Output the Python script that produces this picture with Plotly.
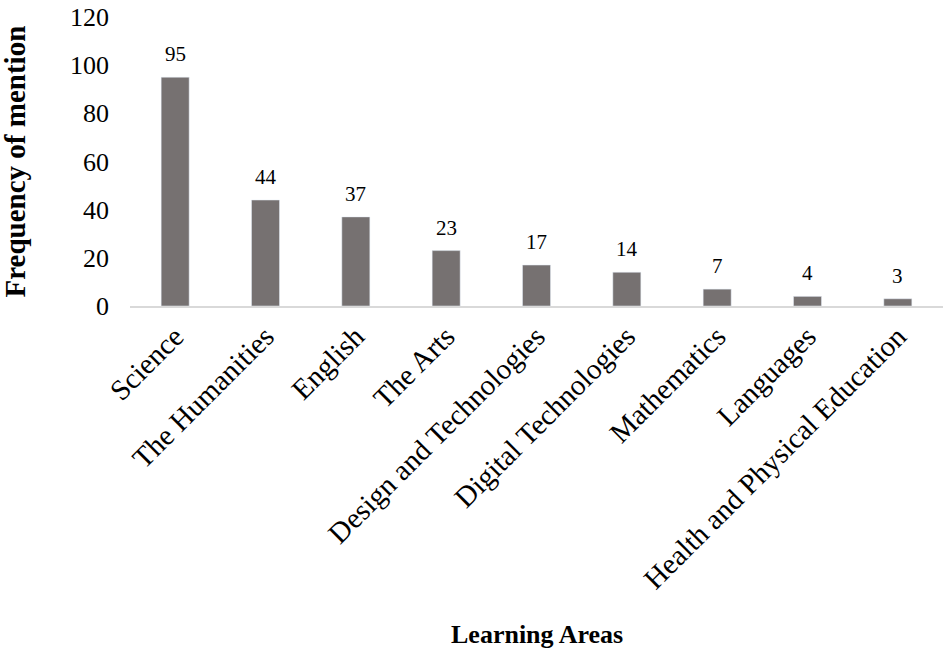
import plotly.graph_objects as go

# Data
areas = ['Science', 'The Humanities', 'English', 'The Arts', 'Design and Technologies',
         'Digital Technologies', 'Mathematics', 'Languages', 'Health and Physical Education']
mentions = [95, 44, 37, 23, 17, 14, 7, 4, 3]

serif = 'Liberation Serif, Times New Roman, serif'

fig = go.Figure(go.Bar(
    x=areas,
    y=mentions,
    marker_color='#767171',
    cliponaxis=False,
))

# value labels above the bars
for a, m in zip(areas, mentions):
    fig.add_annotation(
        x=a, y=m, text=str(m), showarrow=False,
        xanchor='center', yanchor='bottom', yshift=9,
        font=dict(family=serif, size=21, color='#000000'),
    )

fig.update_layout(
    width=945, height=649,
    margin=dict(l=130, r=2, t=17, b=343),
    paper_bgcolor='white',
    plot_bgcolor='white',
    bargap=0.69,
    showlegend=False,
    font=dict(family=serif, color='#000000'),
)

fig.update_yaxes(
    range=[0, 120], dtick=20, automargin=False,
    showgrid=False, zeroline=False, showline=False,
    tickfont=dict(family=serif, size=26, color='#000000'),
    ticks='', ticklabelstandoff=20, ticklabeloverflow='allow',
)
fig.update_xaxes(
    automargin=False,
    showline=True, linecolor='#d9d9d9', linewidth=2,
    tickangle=-45, ticks='',
    tickfont=dict(family=serif, size=29, color='#000000'),
)

# Axis titles
fig.add_annotation(
    text='<b>Frequency of mention</b>', textangle=-90,
    xref='paper', yref='paper', x=-0.1415, y=0.5,
    xanchor='center', yanchor='middle', showarrow=False,
    font=dict(family=serif, size=29, color='#000000'),
)
fig.add_annotation(
    text='<b>Learning Areas</b>',
    xref='paper', yref='paper', x=0.5, y=-1.135,
    xanchor='center', yanchor='middle', showarrow=False,
    font=dict(family=serif, size=26, color='#000000'),
)

# drop the default 8px body margin so the figure sits at the page corner
fig.write_html('out.html', config={'displayModeBar': False},
               post_script="document.body.style.margin='0';")
